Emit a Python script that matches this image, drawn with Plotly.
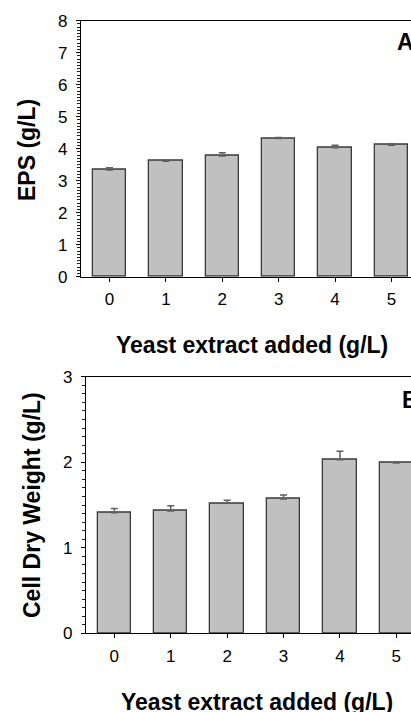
import plotly.graph_objects as go

# ---- data ----
yeast_extract = [0, 1, 2, 3, 4, 5]
tick_labels = ["0", "1", "2", "3", "4", "5"]
eps_values = [3.33, 3.61, 3.77, 4.32, 4.03, 4.11]
eps_errors = [0.07, 0.03, 0.10, 0.03, 0.08, 0.04]
cdw_values = [1.41, 1.43, 1.52, 1.57, 2.03, 1.99]
cdw_errors = [0.05, 0.06, 0.035, 0.047, 0.097, 0.008]

W, H = 411, 712
FONT = "Liberation Sans, Arial, sans-serif"
BAR_FILL = "#c0c0c0"
BAR_LINE = "#3a3a3a"
ERR_COLOR = "#606060"

def px_y(p):
    return 1 - p / H

def px_x(p):
    return p / W

fig = go.Figure()

fig.add_trace(go.Bar(
    x=yeast_extract, y=eps_values, width=0.59,
    marker=dict(color=BAR_FILL, line=dict(color=BAR_LINE, width=1.3)),
    error_y=dict(type="data", array=eps_errors, arrayminus=[0] * 6, symmetric=False,
                 color=ERR_COLOR, thickness=1.5, width=3.5),
    xaxis="x", yaxis="y", showlegend=False,
))
fig.add_trace(go.Bar(
    x=yeast_extract, y=cdw_values, width=0.59,
    marker=dict(color=BAR_FILL, line=dict(color=BAR_LINE, width=1.3)),
    error_y=dict(type="data", array=cdw_errors, arrayminus=[0] * 6, symmetric=False,
                 color=ERR_COLOR, thickness=1.5, width=3.5),
    xaxis="x2", yaxis="y2", showlegend=False,
))

tickfont = dict(family=FONT, size=17, color="black")

xcommon = dict(
    tickvals=yeast_extract, ticktext=tick_labels, tickfont=tickfont,
    showline=True, linecolor="black", linewidth=1.3, mirror=True,
    ticks="outside", ticklen=4, tickcolor="black", tickwidth=1,
    showgrid=False, zeroline=False, fixedrange=True, ticklabelstandoff=3,
    automargin=False,
)
ycommon = dict(
    tickfont=tickfont, showline=True, linecolor="black", linewidth=1.3,
    ticks="outside", ticklen=4, tickcolor="black", tickwidth=1,
    showgrid=False, zeroline=False, ticklabelstandoff=5, automargin=False,
)

top_dom = [px_y(276.67), px_y(20.67)]
bot_dom = [px_y(633.33), px_y(376.67)]

fig.update_layout(
    width=W, height=H, autosize=False,
    margin=dict(l=0, r=0, t=0, b=0, pad=0),
    paper_bgcolor="white", plot_bgcolor="white",
    bargap=0,
    xaxis=dict(domain=[px_x(81), 1], range=[-0.505, 5.346], anchor="y", **xcommon),
    yaxis=dict(domain=top_dom, range=[0, 8], dtick=1, anchor="x",
               minor=dict(ticks="outside", dtick=0.1, ticklen=3, tickwidth=1, tickcolor="#222"),
               **ycommon),
    yaxis3=dict(overlaying="y", anchor="x", range=[0, 8], dtick=1, showticklabels=False,
                ticks="inside", ticklen=4, tickcolor="black", showline=False,
                showgrid=False, zeroline=False, automargin=False,
                minor=dict(ticks="inside", dtick=0.1, ticklen=3, tickwidth=1, tickcolor="#222")),
    xaxis2=dict(domain=[px_x(86), 1], range=[-0.502, 5.26], anchor="y2", **xcommon),
    yaxis2=dict(domain=bot_dom, range=[0, 3], dtick=1, anchor="x2",
                minor=dict(ticks="outside", dtick=0.1, ticklen=3, tickwidth=1, tickcolor="#222"),
                **ycommon),
    yaxis4=dict(overlaying="y2", anchor="x2", range=[0, 3], dtick=1, showticklabels=False,
                ticks="inside", ticklen=4, tickcolor="black", showline=False,
                showgrid=False, zeroline=False, automargin=False,
                minor=dict(ticks="inside", dtick=0.1, ticklen=1.5, tickwidth=1, tickcolor="#222")),
)

tfont = dict(family=FONT, size=23, color="black", weight="bold")
annos = [
    dict(text="Yeast extract added (g/L)", x=px_x(251.5), y=px_y(345), xanchor="center", yanchor="middle"),
    dict(text="Yeast extract added (g/L)", x=px_x(256.5), y=px_y(702), xanchor="center", yanchor="middle"),
    dict(text="EPS (g/L)", x=px_x(27), y=px_y(150), xanchor="center", yanchor="middle", textangle=-90),
    dict(text="Cell Dry Weight (g/L)", x=px_x(32), y=px_y(505), xanchor="center", yanchor="middle", textangle=-90),
    dict(text="A", x=px_x(395), y=px_y(41.5), xanchor="left", yanchor="middle"),
    dict(text="B", x=px_x(400), y=px_y(400), xanchor="left", yanchor="middle"),
]
for a in annos:
    fig.add_annotation(xref="paper", yref="paper", showarrow=False, font=tfont, **a)

# remove the default page margin so the 411x712 figure fills the window exactly
fig.write_html(
    "out.html",
    config={"displayModeBar": False},
    post_script="document.body.style.margin='0';document.body.style.overflow='hidden';",
)
